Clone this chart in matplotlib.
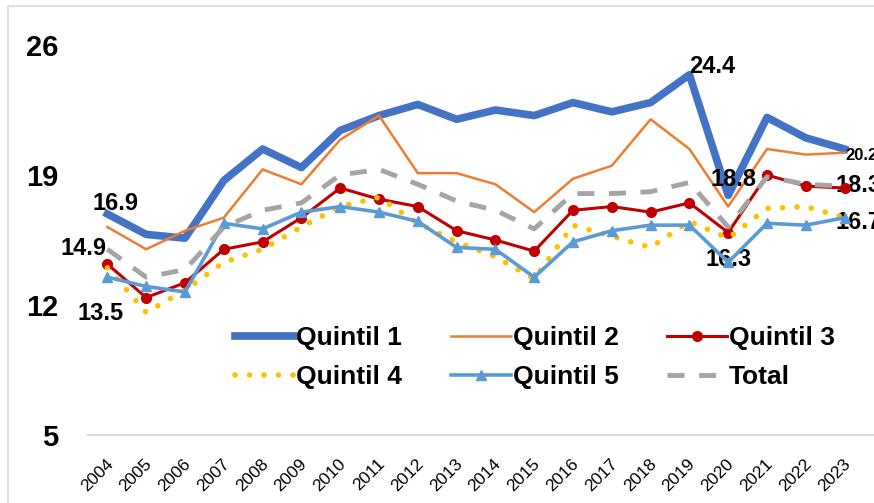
import matplotlib
matplotlib.use("Agg")
import matplotlib.pyplot as plt
from matplotlib import font_manager as fm
import matplotlib.transforms as mtransforms
from matplotlib.patches import Rectangle

years = [str(y) for y in range(2004, 2024)]
q1 = [16.9, 15.8, 15.6, 18.7, 20.4, 19.4, 21.4, 22.2, 22.8, 22.0, 22.5, 22.2, 22.9, 22.4, 22.9, 24.4, 17.9, 22.1, 21.0, 20.4]
q2 = [16.2, 15.0, 16.0, 16.7, 19.3, 18.5, 20.9, 22.2, 19.1, 19.1, 18.5, 17.0, 18.8, 19.5, 22.0, 20.4, 17.3, 20.4, 20.1, 20.2]
q3 = [14.2, 12.4, 13.2, 15.0, 15.4, 16.7, 18.3, 17.7, 17.3, 16.0, 15.5, 14.9, 17.1, 17.3, 17.0, 17.5, 15.9, 19.0, 18.4, 18.3]
q4 = [14.0, 11.6, 12.8, 14.3, 15.0, 16.2, 17.3, 17.8, 16.4, 15.4, 14.6, 13.4, 16.3, 15.7, 15.1, 16.5, 15.6, 17.2, 17.3, 16.7]
q5 = [13.5, 13.0, 12.7, 16.4, 16.1, 17.0, 17.3, 17.0, 16.5, 15.1, 15.0, 13.5, 15.4, 16.0, 16.3, 16.3, 14.3, 16.4, 16.3, 16.7]
total = [15.0, 13.5, 13.9, 16.2, 17.1, 17.5, 19.0, 19.3, 18.5, 17.6, 17.1, 16.1, 18.0, 18.0, 18.1, 18.6, 16.2, 18.9, 18.5, 18.4]
yticks = [5, 12, 19, 26]

avail = {f.name for f in fm.fontManager.ttflist}
fam = [f for f in ["Liberation Sans", "DejaVu Sans"] if f in avail]
plt.rcParams['font.family'] = fam

W, H = 874, 503
fig = plt.figure(figsize=(W / 100, H / 100), dpi=100)
fig.patch.set_facecolor("white")
# chart frame
fig.add_artist(Rectangle((8 / W, -0.1), 1.2, 1 - 6 / H + 0.1, transform=fig.transFigure,
                         fill=False, edgecolor="#D9D9D9", lw=1.2))

left, right = 88, 874
top, bottom = 30, 435
ax = fig.add_axes([left / W, 1 - bottom / H, (right - left) / W, (bottom - top) / H])
spacing = 38.8
x = list(range(len(years)))
ax.set_xlim(-0.5, -0.5 + (right - left) / spacing)
ax.set_ylim(5, 26 + 15 / 18.57)

ax.plot(x, q1, color="#4472C4", lw=5.5, solid_joinstyle="round", label="Quintil 1", zorder=2)
ax.plot(x, q2, color="#ED7D31", lw=1.8, label="Quintil 2", zorder=3)
ax.plot(x, q3, color="#C00000", lw=2.2, marker="o", ms=7, label="Quintil 3", zorder=4)
ax.plot(x, q4, color="#FFC000", lw=4.0, linestyle=(0, (0.01, 2.6)), dash_capstyle="round",
        label="Quintil 4", zorder=5)
ax.plot(x, q5, color="#5B9BD5", lw=2.6, marker="^", ms=7.5, label="Quintil 5", zorder=6)
ax.plot(x, total, color="#A5A5A5", lw=3.5, linestyle=(0, (3.5, 3.0)), label="Total", zorder=7)

for s in ["top", "right", "left"]:
    ax.spines[s].set_visible(False)
ax.spines["bottom"].set_color("#D9D9D9")
ax.spines["bottom"].set_linewidth(1.5)
ax.tick_params(axis="both", length=0)
ax.set_yticks(yticks)
ax.set_yticklabels([str(v) for v in yticks], fontsize=21, fontweight="bold")
ax.tick_params(axis="y", pad=21.5)
ax.set_xticks(x)
ax.set_xticklabels(years, rotation=45, ha="right", va="top", rotation_mode="anchor", fontsize=12.5)
ax.tick_params(axis="x", pad=15)
off = mtransforms.ScaledTranslation(-2 / 100, 0, fig.dpi_scale_trans)
for lab in ax.get_xticklabels():
    lab.set_transform(lab.get_transform() + off)

lbl = dict(fontsize=17, fontweight="bold", textcoords="offset pixels", annotation_clip=False)
ax.annotate("16.9", xy=(0, q1[0]), xytext=(8, 11), ha="center", va="center", **lbl)
ax.annotate("14.9", xy=(0, total[0]), xytext=(-24, 1), ha="center", va="center", **lbl)
ax.annotate("13.5", xy=(0, q5[0]), xytext=(-7, -36), ha="center", va="center", **lbl)
ax.annotate("24.4", xy=(15, q1[15]), xytext=(23, 8), ha="center", va="center", **lbl)
ax.annotate("18.8", xy=(16, q3[16]), xytext=(5, 53), ha="center", va="center", **lbl)
ax.annotate("16.3", xy=(16, q5[16]), xytext=(0, 3), ha="center", va="center", **lbl)
ax.annotate("20.2", xy=(19, q2[19]), xytext=(1, -3), ha="left", va="center",
            fontsize=12, fontweight="bold", textcoords="offset pixels", annotation_clip=False)
ax.annotate("18.3", xy=(19, q3[19]), xytext=(-9, 3), ha="left", va="center", **lbl)
ax.annotate("16.7", xy=(19, q5[19]), xytext=(-9, -5), ha="left", va="center", **lbl)

h, l = ax.get_legend_handles_labels()
order = [0, 3, 1, 4, 2, 5]
fs = 19
fpx = fs * 100 / 72
leg = fig.legend([h[i] for i in order], [l[i] for i in order], ncol=3, frameon=False,
                 loc="center left", bbox_to_anchor=(235 / W, 1 - 357.5 / H),
                 prop={"size": fs, "weight": "bold"}, handlelength=60 / fpx,
                 handletextpad=0.05, columnspacing=49 / fpx, labelspacing=0.56, borderpad=0,
                 borderaxespad=0)

fig.savefig("out.png", dpi=100)
